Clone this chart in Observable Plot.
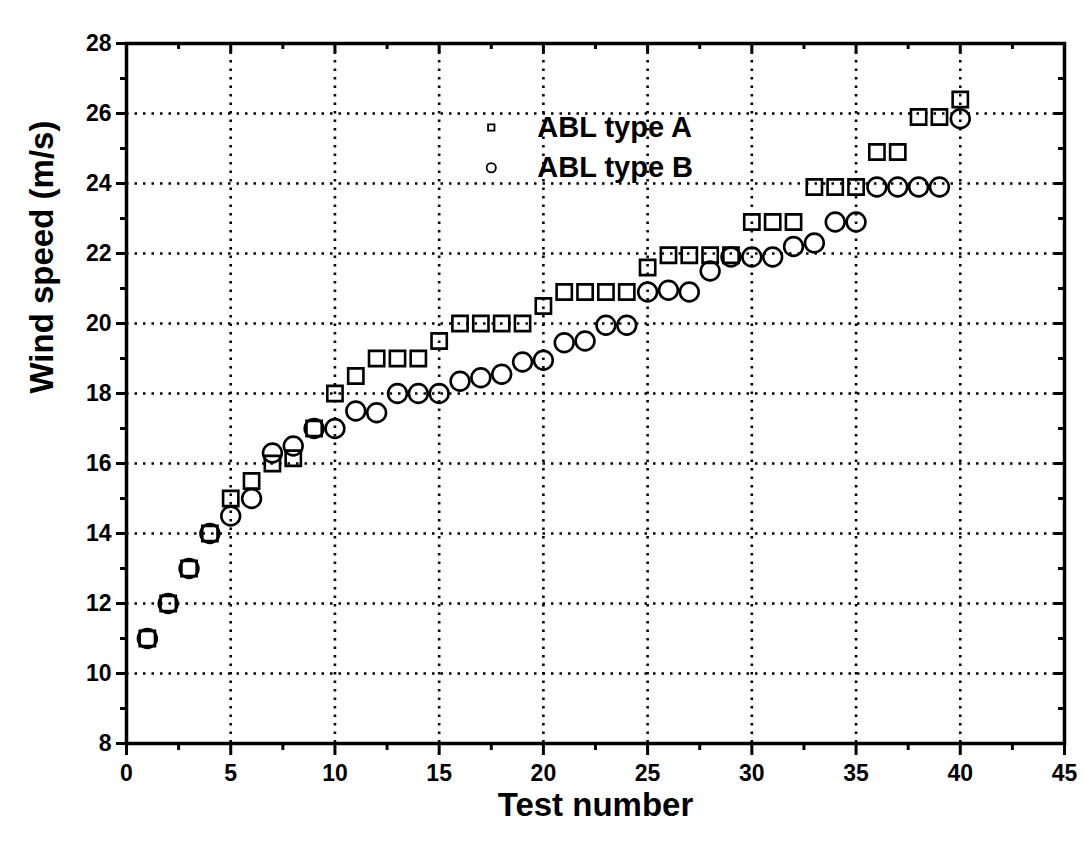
<!DOCTYPE html>
<html>
<head>
<meta charset="utf-8">
<script src="https://cdn.jsdelivr.net/npm/d3@7"></script>
<script src="https://cdn.jsdelivr.net/npm/@observablehq/plot@0.6"></script>
<style>
  html, body { margin: 0; padding: 0; background: #fff; }
  #chart svg { display: block; }
</style>
</head>
<body>
<div id="chart"></div>
<script>
// ---- data ----
const testNumbers = d3.range(1, 41);
const ablTypeA = [11, 12, 13, 14, 15, 15.5, 16, 16.15, 17, 18,
  18.5, 19, 19, 19, 19.5, 20, 20, 20, 20, 20.5,
  20.9, 20.9, 20.9, 20.9, 21.6, 21.95, 21.95, 21.95, 21.95, 22.9,
  22.9, 22.9, 23.9, 23.9, 23.9, 24.9, 24.9, 25.9, 25.9, 26.4];
const ablTypeB = [11, 12, 13, 14, 14.5, 15, 16.3, 16.5, 17, 17,
  17.5, 17.45, 18, 18, 18, 18.35, 18.45, 18.55, 18.9, 18.95,
  19.45, 19.5, 19.95, 19.95, 20.9, 20.95, 20.9, 21.5, 21.9, 21.9,
  21.9, 22.2, 22.3, 22.9, 22.9, 23.9, 23.9, 23.9, 23.9, 25.85];
const seriesNames = ["ABL type A", "ABL type B"];
const xMajor = [0, 5, 10, 15, 20, 25, 30, 35, 40, 45];
const xMinor = [2.5, 7.5, 12.5, 17.5, 22.5, 27.5, 32.5, 37.5, 42.5];
const yMajor = [8, 10, 12, 14, 16, 18, 20, 22, 24, 26, 28];
const yMinor = [9, 11, 13, 15, 17, 19, 21, 23, 25, 27];
const xGrid = [5, 10, 15, 20, 25, 30, 35, 40];
const yGrid = [10, 12, 14, 16, 18, 20, 22, 24, 26];
const xLabel = "Test number";
const yLabel = "Wind speed (m/s)";

const rowsA = testNumbers.map((t, i) => ({test: t, speed: ablTypeA[i]}));
const rowsB = testNumbers.map((t, i) => ({test: t, speed: ablTypeB[i]}));

const W = 1084, H = 848, ML = 126, MR = 20, MT = 43, MB = 105;
const FW = W - ML - MR, FH = H - MT - MB;
const font = "'Liberation Sans', Arial, Helvetica, sans-serif";
const tickStyle = {stroke: "black", strokeWidth: 3};

const chart = Plot.plot({
  width: W,
  height: H,
  marginLeft: ML,
  marginRight: MR,
  marginTop: MT,
  marginBottom: MB,
  style: {fontFamily: font, fontWeight: "bold", color: "black", background: "white"},
  x: {domain: [0, 45]},
  y: {domain: [8, 28]},
  marks: [
    Plot.gridX(xGrid, {stroke: "black", strokeOpacity: 1, strokeWidth: 2.6, strokeDasharray: "2.5,6"}),
    Plot.gridY(yGrid, {stroke: "black", strokeOpacity: 1, strokeWidth: 2.6, strokeDasharray: "2.5,6"}),
    // tick labels only
    Plot.axisX({anchor: "bottom", ticks: xMajor, tickSize: 0, tickPadding: 21, fontSize: 23, label: null, tickFormat: d => d}),
    Plot.axisY({anchor: "left", ticks: yMajor, tickSize: 0, tickPadding: 15, fontSize: 23, label: null, tickFormat: d => d}),
    // bottom ticks (outward)
    Plot.tickX(xMajor, {x: d => d, insetTop: FH, insetBottom: -12, ...tickStyle}),
    Plot.tickX(xMinor, {x: d => d, insetTop: FH, insetBottom: -7, ...tickStyle}),
    // top ticks (inward)
    Plot.tickX(xMajor, {x: d => d, insetTop: 0, insetBottom: FH - 10, ...tickStyle}),
    Plot.tickX(xMinor, {x: d => d, insetTop: 0, insetBottom: FH - 6, ...tickStyle}),
    // left ticks (outward)
    Plot.tickY(yMajor, {y: d => d, insetLeft: -10, insetRight: FW, ...tickStyle}),
    Plot.tickY(yMinor, {y: d => d, insetLeft: -6, insetRight: FW, ...tickStyle}),
    // right ticks (inward)
    Plot.tickY(yMajor, {y: d => d, insetLeft: FW - 10, insetRight: 0, ...tickStyle}),
    Plot.tickY(yMinor, {y: d => d, insetLeft: FW - 6, insetRight: 0, ...tickStyle}),
    Plot.frame({stroke: "black", strokeWidth: 3.5}),
    // data
    Plot.dot(rowsA, {x: "test", y: "speed", symbol: "square", r: 8.6, stroke: "black", strokeWidth: 2.6, fill: "none"}),
    Plot.dot(rowsB, {x: "test", y: "speed", symbol: "circle", r: 9.4, stroke: "black", strokeWidth: 2.6, fill: "none"}),
    // legend
    Plot.dot([seriesNames[0]], {x: () => 17.5, y: () => 25.6, symbol: "square", r: 3.6, stroke: "black", strokeWidth: 1.8, fill: "none"}),
    Plot.dot([seriesNames[1]], {x: () => 17.5, y: () => 24.45, symbol: "circle", r: 4.6, stroke: "black", strokeWidth: 1.8, fill: "none"}),
    Plot.text([seriesNames[0]], {x: () => 17.5, y: () => 25.6, text: d => d, dx: 46, textAnchor: "start", fontSize: 29, fontWeight: "bold", fill: "black"}),
    Plot.text([seriesNames[1]], {x: () => 17.5, y: () => 24.45, text: d => d, dx: 46, textAnchor: "start", fontSize: 29, fontWeight: "bold", fill: "black"}),
    // axis titles
    Plot.text([xLabel], {frameAnchor: "bottom", dy: 72, lineAnchor: "bottom", text: d => d, fontSize: 33, fontWeight: "bold", fill: "black"}),
    Plot.text([yLabel], {frameAnchor: "left", dx: -84, rotate: -90, text: d => d, fontSize: 33, fontWeight: "bold", fill: "black"})
  ]
});
document.getElementById("chart").append(chart);
</script>
</body>
</html>
